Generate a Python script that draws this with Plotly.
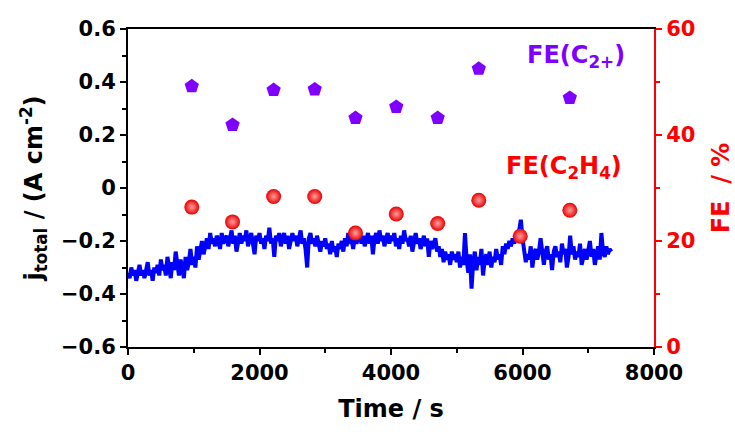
import plotly.graph_objects as go

# ---------------- data ----------------
# current density trace (A cm^-2), sampled every 25 s from 0 s
t_step = 25
j_total = [
    -0.32, -0.34, -0.30, -0.33, -0.31, -0.35, -0.32, -0.29, -0.33, -0.31, -0.34, -0.30, -0.28, -0.33, -0.31, -0.35, -0.30, -0.32, -0.29, -0.33,
    -0.27, -0.31, -0.29, -0.33, -0.26, -0.30, -0.34, -0.28, -0.31, -0.24, -0.29, -0.33, -0.27, -0.30, -0.34, -0.26, -0.31, -0.28, -0.23, -0.29,
    -0.26, -0.30, -0.22, -0.27, -0.24, -0.20, -0.25, -0.21, -0.19, -0.23, -0.17, -0.21, -0.19, -0.22, -0.18, -0.20, -0.23, -0.17, -0.21, -0.19,
    -0.18, -0.22, -0.19, -0.16, -0.21, -0.18, -0.24, -0.19, -0.17, -0.21, -0.18, -0.20, -0.16, -0.22, -0.19, -0.17, -0.21, -0.25, -0.18, -0.20,
    -0.17, -0.21, -0.19, -0.23, -0.18, -0.20, -0.15, -0.21, -0.19, -0.26, -0.18, -0.20, -0.17, -0.22, -0.19, -0.17, -0.21, -0.18, -0.23, -0.19,
    -0.17, -0.20, -0.18, -0.22, -0.19, -0.16, -0.21, -0.19, -0.23, -0.30, -0.19, -0.17, -0.21, -0.19, -0.22, -0.18, -0.21, -0.24, -0.20, -0.22,
    -0.19, -0.23, -0.21, -0.25, -0.20, -0.24, -0.22, -0.26, -0.21, -0.23, -0.20, -0.24, -0.19, -0.22, -0.17, -0.21, -0.19, -0.23, -0.18, -0.21,
    -0.19, -0.16, -0.21, -0.18, -0.22, -0.19, -0.17, -0.21, -0.18, -0.25, -0.19, -0.17, -0.21, -0.16, -0.20, -0.18, -0.22, -0.19, -0.17, -0.21,
    -0.18, -0.20, -0.17, -0.22, -0.19, -0.23, -0.18, -0.21, -0.16, -0.20, -0.19, -0.22, -0.18, -0.24, -0.19, -0.17, -0.21, -0.19, -0.23, -0.20,
    -0.18, -0.22, -0.19, -0.26, -0.20, -0.23, -0.21, -0.19, -0.24, -0.22, -0.26, -0.23, -0.28, -0.24, -0.27, -0.25, -0.29, -0.24, -0.27, -0.25,
    -0.28, -0.24, -0.30, -0.26, -0.29, -0.17, -0.27, -0.32, -0.25, -0.38, -0.28, -0.24, -0.31, -0.26, -0.29, -0.23, -0.33, -0.27, -0.25, -0.29,
    -0.24, -0.30, -0.26, -0.28, -0.23, -0.27, -0.25, -0.29, -0.22, -0.25, -0.21, -0.23, -0.20, -0.22, -0.19, -0.21, -0.18, -0.20, -0.16, -0.12,
    -0.19, -0.23, -0.28, -0.25, -0.27, -0.22, -0.30, -0.25, -0.23, -0.27, -0.24, -0.19, -0.26, -0.29, -0.24, -0.22, -0.27, -0.25, -0.31, -0.24,
    -0.22, -0.26, -0.24, -0.28, -0.21, -0.25, -0.23, -0.30, -0.26, -0.18, -0.25, -0.22, -0.27, -0.24, -0.26, -0.21, -0.29, -0.25, -0.23, -0.27,
    -0.24, -0.20, -0.26, -0.23, -0.29, -0.25, -0.22, -0.27, -0.17, -0.24, -0.26, -0.22, -0.25, -0.23, -0.24,
]
time_s = [i * t_step for i in range(len(j_total))]

# Faradaic efficiencies (%)
t_c2plus = [970, 1590, 2215, 2840, 3460, 4080, 4710, 5335, 6720]
fe_c2plus = [49.2, 41.9, 48.5, 48.6, 43.2, 45.3, 43.2, 52.5, 47.0]

t_c2h4 = [970, 1590, 2215, 2840, 3460, 4080, 4710, 5335, 5965, 6720]
fe_c2h4 = [26.4, 23.6, 28.4, 28.4, 21.5, 25.1, 23.3, 27.7, 20.9, 25.8]

x_ticks = [0, 2000, 4000, 6000, 8000]
y_ticks = [-0.6, -0.4, -0.2, 0, 0.2, 0.4, 0.6]
y2_ticks = [0, 20, 40, 60]

# ---------------- figure ----------------
FONT = "DejaVu Sans, Arial, sans-serif"
BLUE = "#0000ff"
RED = "#ff0000"
VIOLET = "#7f00ff"

fig = go.Figure()

fig.add_trace(go.Scatter(
    x=time_s, y=j_total, mode="lines",
    line=dict(color=BLUE, width=4),
    showlegend=False, yaxis="y",
))

fig.add_trace(go.Scatter(
    x=t_c2plus, y=fe_c2plus, mode="markers",
    marker=dict(symbol="pentagon", size=15, color=VIOLET, line=dict(width=0)),
    showlegend=False, yaxis="y2",
))

# red "spheres": light centre fading to saturated red edge
fig.add_trace(go.Scatter(
    x=t_c2h4, y=fe_c2h4, mode="markers",
    marker=dict(symbol="circle", size=15, color="#e80000",
                gradient=dict(type="radial", color="#ffa0a0"),
                line=dict(width=0)),
    showlegend=False, yaxis="y2",
))

tickfont = dict(family=FONT, size=21, color="black", weight="bold")

fig.update_layout(
    width=735, height=432,
    margin=dict(l=128, r=81, t=29, b=85),
    paper_bgcolor="white", plot_bgcolor="white",
    font=dict(family=FONT),
    xaxis=dict(
        range=[0, 8000], tickvals=x_ticks, ticks="outside", ticklen=6, tickwidth=2,
        tickcolor="black", showline=True, linecolor="black", linewidth=2,
        mirror=True, showgrid=False, zeroline=False, automargin=False,
        tickfont=tickfont,
        minor=dict(dtick=1000, ticks="outside", ticklen=4, tickwidth=2, tickcolor="black"),
        title=dict(text="<b>Time / s</b>", font=dict(family=FONT, size=24, color="black"),
                   standoff=16),
    ),
    yaxis=dict(
        range=[-0.6, 0.6], tickvals=y_ticks, ticks="outside", ticklen=6, tickwidth=2,
        tickcolor="black", showline=True, linecolor="black", linewidth=2,
        showgrid=False, zeroline=False, tickformat=".1~f", automargin=False,
        tickfont=tickfont,
        minor=dict(dtick=0.1, ticks="outside", ticklen=4, tickwidth=2, tickcolor="black"),
        title=dict(text="<b>j<sub>total</sub> / (A cm<sup>-2</sup>)</b>",
                   font=dict(family=FONT, size=24, color="black"), standoff=12),
    ),
    yaxis2=dict(
        overlaying="y", side="right", anchor="x", automargin=False,
        range=[0, 60], tickvals=y2_ticks, ticks="outside", ticklen=6, tickwidth=2,
        tickcolor=RED, showline=True, linecolor=RED, linewidth=2,
        showgrid=False, zeroline=False,
        tickfont=dict(family=FONT, size=21, color=RED, weight="bold"),
        minor=dict(dtick=10, ticks="outside", ticklen=4, tickwidth=2, tickcolor=RED),
        title=dict(text="<b>FE  / %</b>", font=dict(family=FONT, size=24, color=RED),
                   standoff=21),
    ),
    annotations=[
        dict(text="<b>FE(C<sub>2+</sub>)</b>", xref="paper", yref="paper",
             x=0.852, y=0.912, xanchor="center", yanchor="middle", showarrow=False,
             font=dict(family=FONT, size=24, color=VIOLET)),
        dict(text="<b>FE(C<sub>2</sub>H<sub>4</sub>)</b>", xref="paper", yref="paper",
             x=0.829, y=0.563, xanchor="center", yanchor="middle", showarrow=False,
             font=dict(family=FONT, size=24, color=RED)),
    ],
)

fig.write_html("out.html")
